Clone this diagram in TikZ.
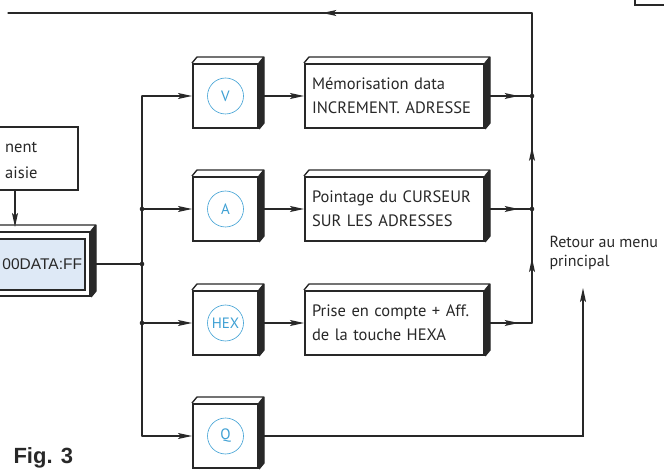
\documentclass[tikz,border=0pt]{standalone}
\usepackage{fontspec}
\setmainfont{PT Sans}
\newfontfamily\dispfont{Liberation Sans}
\usetikzlibrary{positioning, arrows.meta, calc, decorations.markings}

\definecolor{keycyan}{RGB}{62,160,212}
\definecolor{panelblue}{RGB}{222,233,246}
\definecolor{inkgray}{RGB}{40,40,40}

\begin{document}
\begin{tikzpicture}[
  x=1pt, y=-1pt,
  font=\fontsize{16.5}{24}\selectfont,
  line/.style={draw=inkgray, line width=1.2pt, line cap=round},
  arr/.style={line, -{Stealth[length=14pt, width=6pt, inset=3pt]}},
  midarr/.style={line, postaction={decorate, decoration={markings,
    mark=at position #1 with {\arrow{Stealth[length=14pt, width=6pt, inset=3pt]}}}}},
  plainbox/.style={draw=inkgray, line width=2pt, fill=white, inner sep=0pt},
  keybox/.style={plainbox, minimum width=65pt, minimum height=64pt, text=keycyan,
    font=\fontsize{15}{15}\selectfont,
    path picture={\draw[keycyan, line width=0.6pt] (path picture bounding box.center) circle (18pt);}},
  textbox/.style={plainbox, minimum width=179pt, minimum height=64pt, text width=165pt,
    inner xsep=7pt, align=left, text=inkgray},
  dispbox/.style={plainbox, minimum width=110pt, minimum height=64pt, text width=94pt,
    inner xsep=8pt, align=right, text=inkgray, font=\dispfont\fontsize{15.5}{18}\selectfont,
    path picture={\draw[inkgray, fill=panelblue, line width=1.2pt]
      ($(path picture bounding box.north east)+(-5,7)$) rectangle
      ($(path picture bounding box.south west)+(-10,-6)$);}},
  face/.style={draw=inkgray, line width=1.4pt, line join=round}
]
\useasboundingbox (0,0) rectangle (664,470);

% boxes cut by the page edge
\node[plainbox, minimum width=118pt, minimum height=63pt] (lbox) at (19,158.5) {};
\node[anchor=west, align=left, inner sep=0pt, text=inkgray,
  font=\fontsize{16.5}{26}\selectfont] (lboxtext) at (5,160) {nent\\aisie};
\node[plainbox, minimum width=70pt, minimum height=40pt] (menubox) at (670,-15) {};
\node[dispbox] (disp) at (35,264) {00DATA:FF};

% keys
\node[keybox] (kv) at (225.5,96) {V};
\node[keybox] (ka) at (225.5,209) {A};
\node[keybox] (khex) at (225.5,323) {HEX};
\node[keybox] (kq) at (225.5,436) {Q};

% actions
\node[textbox] (tmem) at (394.5,96) {Mémorisation data\\INCREMENT. ADRESSE};
\node[textbox] (tpt) at (394.5,209) {Pointage du CURSEUR\\SUR LES ADRESSES};
\node[textbox] (thex) at (394.5,323) {Prise en compte + Aff.\\de la touche HEXA};

% relief of the boxes
\foreach \n in {disp, kv, ka, khex, kq, tmem, tpt, thex} {
  \fill[inkgray] (\n.north east) -- ++(5,-6) -- ($(\n.south east)+(5,-6)$) -- (\n.south east) -- cycle;
  \draw[face] (\n.north west) -- ++(5,-6) -- ($(\n.north east)+(5,-6)$)
    -- ($(\n.south east)+(5,-6)$) -- (\n.south east) (\n.north east) -- ++(5,-6);
}

\coordinate (drop) at (15,0);
\coordinate (bus) at (142,0);
\coordinate (rbus) at (532,13);
\coordinate (topend) at (8,13);
\coordinate (ret) at (583,288);

% from the display to the keys
\draw[arr] (lbox.south -| drop) -- ($(disp.north -| drop)+(0,-4)$);
\draw[line] ([xshift=5pt]disp.east) -- (disp.east -| bus);
\draw[line] (kv.west -| bus) -- (kq.west -| bus);
\draw[arr] (kv.west -| bus) -- (kv.west);
\draw[arr] (ka.west -| bus) -- (ka.west);
\draw[arr] (khex.west -| bus) -- (khex.west);
\draw[arr] (kq.west -| bus) -- (kq.west);
\fill[inkgray] (disp.east -| bus) circle (2.3pt) (ka.west -| bus) circle (2.3pt)
  (khex.west -| bus) circle (2.3pt);

% keys to actions
\draw[arr] ([xshift=5pt]kv.east) -- (tmem.west);
\draw[arr] ([xshift=5pt]ka.east) -- (tpt.west);
\draw[arr] ([xshift=5pt]khex.east) -- (thex.west);

% back to the top
\draw[midarr=0.68] ([xshift=5pt]tmem.east) -- (tmem.east -| rbus);
\draw[midarr=0.68] ([xshift=5pt]tpt.east) -- (tpt.east -| rbus);
\draw[midarr=0.68] ([xshift=5pt]thex.east) -- (thex.east -| rbus);
\draw[midarr=0.57] (thex.east -| rbus) -- (tpt.east -| rbus);
\draw[midarr=0.55] (tpt.east -| rbus) -- (tmem.east -| rbus);
\draw[line] (tmem.east -| rbus) -- (rbus);
\draw[midarr=0.4] (rbus) -- (topend);
\fill[inkgray] (tmem.east -| rbus) circle (2.3pt) (tpt.east -| rbus) circle (2.3pt);

% Q: back to the main menu
\draw[arr] ([xshift=5pt]kq.east) -| (ret);
\node[anchor=west, align=left, text=inkgray, font=\fontsize{16}{19}\selectfont]
  (retour) at (546,253) {Retour au menu\\principal};

\node[anchor=west, text=inkgray, font=\dispfont\bfseries\fontsize{22}{22}\selectfont]
  (fig) at (10,458) {Fig. 3};
\end{tikzpicture}
\end{document}
